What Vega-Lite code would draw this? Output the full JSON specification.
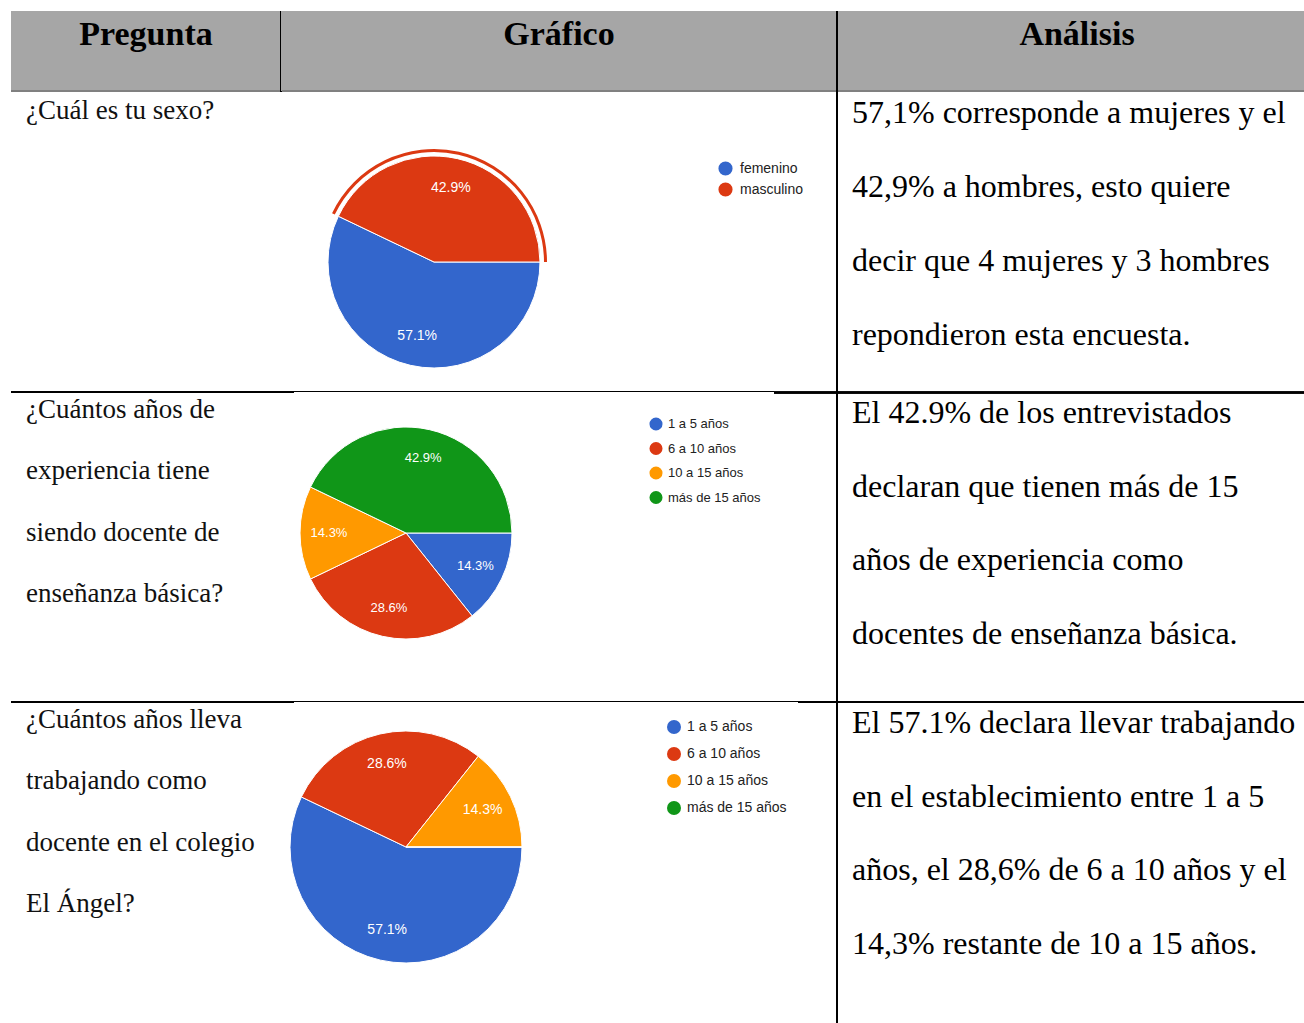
{
  "$schema": "https://vega.github.io/schema/vega-lite/v6.json",
  "padding": {"left": 10, "top": 10, "right": 0, "bottom": 0},
  "background": "white",
  "bounds": "flush",
  "spacing": 0,
  "columns": 3,
  "config": {"view": {"stroke": null}},
  "resolve": {"scale": {"color": "independent", "theta": "independent"}, "legend": {"color": "independent"}},
  "datasets": {
    "sexo": [
      {"cat": "femenino", "n": 1, "pct": 57.1, "lab": "57.1%"},
      {"cat": "masculino", "n": 2, "pct": 42.9, "lab": "42.9%"}
    ],
    "experiencia": [
      {"cat": "1 a 5 años", "n": 1, "pct": 14.3, "lab": "14.3%"},
      {"cat": "6 a 10 años", "n": 2, "pct": 28.6, "lab": "28.6%"},
      {"cat": "10 a 15 años", "n": 3, "pct": 14.3, "lab": "14.3%"},
      {"cat": "más de 15 años", "n": 4, "pct": 42.9, "lab": "42.9%"}
    ],
    "colegio": [
      {"cat": "1 a 5 años", "n": 1, "pct": 57.1, "lab": "57.1%"},
      {"cat": "6 a 10 años", "n": 2, "pct": 28.6, "lab": "28.6%"},
      {"cat": "10 a 15 años", "n": 3, "pct": 14.3, "lab": "14.3%"},
      {"cat": "más de 15 años", "n": 4, "pct": 0, "lab": ""}
    ],
    "preg1": [{"line": 1, "t": "¿Cuál es tu sexo?"}],
    "preg2": [
      {"line": 1, "t": "¿Cuántos años de"},
      {"line": 2, "t": "experiencia tiene"},
      {"line": 3, "t": "siendo docente de"},
      {"line": 4, "t": "enseñanza básica?"}
    ],
    "preg3": [
      {"line": 1, "t": "¿Cuántos años lleva"},
      {"line": 2, "t": "trabajando como"},
      {"line": 3, "t": "docente en el colegio"},
      {"line": 4, "t": "El Ángel?"}
    ],
    "anal1": [
      {"line": 1, "t": "57,1% corresponde a mujeres y el"},
      {"line": 2, "t": "42,9% a hombres, esto quiere"},
      {"line": 3, "t": "decir que 4 mujeres y 3 hombres"},
      {"line": 4, "t": "repondieron esta encuesta."}
    ],
    "anal2": [
      {"line": 1, "t": "El 42.9% de los entrevistados"},
      {"line": 2, "t": "declaran que tienen más de 15"},
      {"line": 3, "t": "años de experiencia como"},
      {"line": 4, "t": "docentes de enseñanza básica."}
    ],
    "anal3": [
      {"line": 1, "t": "El 57.1% declara llevar trabajando"},
      {"line": 2, "t": "en el establecimiento entre 1 a 5"},
      {"line": 3, "t": "años, el 28,6% de 6 a 10 años y el"},
      {"line": 4, "t": "14,3% restante de 10 a 15 años."}
    ],
    "cab": [{"c1": "Pregunta", "c2": "Gráfico", "c3": "Análisis"}]
  },
  "concat": [
    {
      "width": 270, "height": 80,
      "view": {"fill": "#a6a6a6", "stroke": null},
      "data": {"name": "cab"},
      "layer": [
        {"mark": {"type": "text", "x": 135, "y": 34, "baseline": "alphabetic", "align": "center", "font": "Liberation Serif", "fontWeight": "bold", "fontSize": 34, "color": "#000"}, "encoding": {"text": {"field": "c1"}}},
        {"mark": {"type": "rule", "color": "#808080", "strokeWidth": 2}, "encoding": {"x": {"value": 0}, "x2": {"value": 270}, "y": {"value": 80}, "y2": {"value": 80}}},
        {"mark": {"type": "rule", "color": "#000", "strokeWidth": 2}, "encoding": {"x": {"value": 270}, "x2": {"value": 270}, "y": {"value": 0}, "y2": {"value": 81}}}
      ]
    },
    {
      "width": 556, "height": 80,
      "view": {"fill": "#a6a6a6", "stroke": null},
      "data": {"name": "cab"},
      "layer": [
        {"mark": {"type": "text", "x": 278, "y": 34, "baseline": "alphabetic", "align": "center", "font": "Liberation Serif", "fontWeight": "bold", "fontSize": 34, "color": "#000"}, "encoding": {"text": {"field": "c2"}}},
        {"mark": {"type": "rule", "color": "#808080", "strokeWidth": 2}, "encoding": {"x": {"value": 1}, "x2": {"value": 556}, "y": {"value": 80}, "y2": {"value": 80}}}
      ]
    },
    {
      "width": 468, "height": 80,
      "view": {"fill": "#a6a6a6", "stroke": null},
      "data": {"name": "cab"},
      "layer": [
        {"mark": {"type": "text", "x": 240, "y": 34, "baseline": "alphabetic", "align": "center", "font": "Liberation Serif", "fontWeight": "bold", "fontSize": 34, "color": "#000"}, "encoding": {"text": {"field": "c3"}}},
        {"mark": {"type": "rule", "color": "#808080", "strokeWidth": 2}, "encoding": {"x": {"value": 0}, "x2": {"value": 468}, "y": {"value": 80}, "y2": {"value": 80}}},
        {"mark": {"type": "rule", "color": "#000", "strokeWidth": 2}, "encoding": {"x": {"value": 0}, "x2": {"value": 0}, "y": {"value": 0}, "y2": {"value": 81}}}
      ]
    },
    {
      "width": 270, "height": 300,
      "data": {"name": "preg1"},
      "mark": {"type": "text", "align": "left", "baseline": "middle", "x": 15, "font": "Liberation Serif", "fontSize": 27, "color": "#111"},
      "encoding": {
        "text": {"field": "t"},
        "y": {"field": "line", "type": "quantitative", "axis": null, "scale": {"domain": [1, 2], "range": [20, 81.3], "zero": false, "nice": false}}
      }
    },
    {
      "width": 556, "height": 300,
      "data": {"name": "sexo"},
      "layer": [
        {
          "mark": {"type": "arc", "x": 153, "y": 171, "outerRadius": 106, "stroke": "#ffffff", "strokeWidth": 1},
          "encoding": {
            "theta": {"field": "pct", "type": "quantitative", "stack": true, "scale": {"range": [1.5708, 7.854]}},
            "order": {"field": "n", "type": "quantitative"},
            "color": {
              "field": "cat", "type": "nominal",
              "scale": {"domain": ["femenino", "masculino"], "range": ["#3366cc", "#dc3912"]},
              "legend": {"title": null, "orient": "none", "legendX": 437, "legendY": 70, "symbolType": "circle", "symbolSize": 200, "symbolStrokeWidth": 0, "labelFont": "Liberation Sans", "labelFontSize": 14, "labelColor": "#222222", "rowPadding": 6, "labelOffset": 7}
            }
          }
        },
        {
          "mark": {"type": "arc", "x": 153, "y": 171, "innerRadius": 110, "outerRadius": 113, "color": "#dc3912"},
          "encoding": {
            "theta": {"field": "pct", "type": "quantitative", "stack": true},
            "order": {"field": "n", "type": "quantitative"},
            "detail": {"field": "cat"},
            "opacity": {"condition": {"test": "datum.cat === 'masculino'", "value": 1}, "value": 0}
          }
        },
        {
          "mark": {"type": "text", "x": 153, "y": 171, "radius": 76, "color": "#ffffff", "font": "Liberation Sans", "fontSize": 14},
          "encoding": {
            "theta": {"field": "pct", "type": "quantitative", "stack": true},
            "order": {"field": "n", "type": "quantitative"},
            "text": {"field": "lab"},
            "detail": {"field": "cat"}
          }
        }
      ]
    },
    {
      "width": 468, "height": 300,
      "data": {"name": "anal1"},
      "layer": [
        {
          "mark": {"type": "text", "align": "left", "baseline": "middle", "x": 15, "font": "Liberation Serif", "fontSize": 32, "color": "#000"},
          "encoding": {
            "text": {"field": "t"},
            "y": {"field": "line", "type": "quantitative", "axis": null, "scale": {"domain": [1, 2], "range": [22, 96], "zero": false, "nice": false}}
          }
        },
        {"mark": {"type": "rule", "color": "#000", "strokeWidth": 2}, "encoding": {"x": {"value": 0}, "x2": {"value": 0}, "y": {"value": 0}, "y2": {"value": 300}}}
      ]
    },
    {
      "width": 270, "height": 310,
      "data": {"name": "preg2"},
      "layer": [
        {
          "mark": {"type": "text", "align": "left", "baseline": "middle", "x": 15, "font": "Liberation Serif", "fontSize": 27, "color": "#111"},
          "encoding": {
            "text": {"field": "t"},
            "y": {"field": "line", "type": "quantitative", "axis": null, "scale": {"domain": [1, 2], "range": [19, 80.3], "zero": false, "nice": false}}
          }
        },
        {"mark": {"type": "rule", "color": "#000", "strokeWidth": 2}, "encoding": {"x": {"value": 0}, "x2": {"value": 270}, "y": {"value": 1}, "y2": {"value": 1}}}
      ]
    },
    {
      "width": 556, "height": 310,
      "data": {"name": "experiencia"},
      "layer": [
        {"mark": {"type": "rule", "color": "#000", "strokeWidth": 2}, "encoding": {"x": {"value": 0}, "x2": {"value": 13}, "y": {"value": 1}, "y2": {"value": 1}}},
        {"mark": {"type": "rule", "color": "#000", "strokeWidth": 1}, "encoding": {"x": {"value": 13}, "x2": {"value": 493}, "y": {"value": 0.5}, "y2": {"value": 0.5}}},
        {"mark": {"type": "rule", "color": "#000", "strokeWidth": 2}, "encoding": {"x": {"value": 493}, "x2": {"value": 556}, "y": {"value": 1.5}, "y2": {"value": 1.5}}},
        {
          "mark": {"type": "arc", "x": 125, "y": 142, "outerRadius": 106, "stroke": "#ffffff", "strokeWidth": 1},
          "encoding": {
            "theta": {"field": "pct", "type": "quantitative", "stack": true, "scale": {"range": [1.5708, 7.854]}},
            "order": {"field": "n", "type": "quantitative"},
            "color": {
              "field": "cat", "type": "nominal",
              "scale": {"domain": ["1 a 5 años", "6 a 10 años", "10 a 15 años", "más de 15 años"], "range": ["#3366cc", "#dc3912", "#ff9900", "#109618"]},
              "legend": {"title": null, "orient": "none", "legendX": 368, "legendY": 26, "symbolType": "circle", "symbolSize": 170, "symbolStrokeWidth": 0, "labelFont": "Liberation Sans", "labelFontSize": 13, "labelColor": "#222222", "rowPadding": 10.5, "labelOffset": 5}
            }
          }
        },
        {
          "mark": {"type": "text", "x": 125, "y": 142, "radius": 77, "color": "#ffffff", "font": "Liberation Sans", "fontSize": 13},
          "encoding": {
            "theta": {"field": "pct", "type": "quantitative", "stack": true},
            "order": {"field": "n", "type": "quantitative"},
            "text": {"field": "lab"},
            "detail": {"field": "cat"}
          }
        }
      ]
    },
    {
      "width": 468, "height": 310,
      "data": {"name": "anal2"},
      "layer": [
        {
          "mark": {"type": "text", "align": "left", "baseline": "middle", "x": 15, "font": "Liberation Serif", "fontSize": 32, "color": "#000"},
          "encoding": {
            "text": {"field": "t"},
            "y": {"field": "line", "type": "quantitative", "axis": null, "scale": {"domain": [1, 2], "range": [22, 95.7], "zero": false, "nice": false}}
          }
        },
        {"mark": {"type": "rule", "color": "#000", "strokeWidth": 2}, "encoding": {"x": {"value": 0}, "x2": {"value": 468}, "y": {"value": 1.5}, "y2": {"value": 1.5}}},
        {"mark": {"type": "rule", "color": "#000", "strokeWidth": 2}, "encoding": {"x": {"value": 0}, "x2": {"value": 0}, "y": {"value": 0}, "y2": {"value": 310}}}
      ]
    },
    {
      "width": 270, "height": 323,
      "data": {"name": "preg3"},
      "layer": [
        {
          "mark": {"type": "text", "align": "left", "baseline": "middle", "x": 15, "font": "Liberation Serif", "fontSize": 27, "color": "#111"},
          "encoding": {
            "text": {"field": "t"},
            "y": {"field": "line", "type": "quantitative", "axis": null, "scale": {"domain": [1, 2], "range": [19, 80.3], "zero": false, "nice": false}}
          }
        },
        {"mark": {"type": "rule", "color": "#000", "strokeWidth": 2}, "encoding": {"x": {"value": 0}, "x2": {"value": 270}, "y": {"value": 1}, "y2": {"value": 1}}}
      ]
    },
    {
      "width": 556, "height": 323,
      "data": {"name": "colegio"},
      "layer": [
        {"mark": {"type": "rule", "color": "#000", "strokeWidth": 2}, "encoding": {"x": {"value": 0}, "x2": {"value": 13}, "y": {"value": 1}, "y2": {"value": 1}}},
        {"mark": {"type": "rule", "color": "#000", "strokeWidth": 1}, "encoding": {"x": {"value": 13}, "x2": {"value": 517}, "y": {"value": 0.5}, "y2": {"value": 0.5}}},
        {"mark": {"type": "rule", "color": "#000", "strokeWidth": 2}, "encoding": {"x": {"value": 517}, "x2": {"value": 556}, "y": {"value": 1}, "y2": {"value": 1}}},
        {
          "mark": {"type": "arc", "x": 125, "y": 146, "outerRadius": 116, "stroke": "#ffffff", "strokeWidth": 1},
          "encoding": {
            "theta": {"field": "pct", "type": "quantitative", "stack": true, "scale": {"range": [1.5708, 7.854]}},
            "order": {"field": "n", "type": "quantitative"},
            "color": {
              "field": "cat", "type": "nominal",
              "scale": {"domain": ["1 a 5 años", "6 a 10 años", "10 a 15 años", "más de 15 años"], "range": ["#3366cc", "#dc3912", "#ff9900", "#109618"]},
              "legend": {"title": null, "orient": "none", "legendX": 386, "legendY": 19, "symbolType": "circle", "symbolSize": 196, "symbolStrokeWidth": 0, "labelFont": "Liberation Sans", "labelFontSize": 14, "labelColor": "#222222", "rowPadding": 13, "labelOffset": 6}
            }
          }
        },
        {
          "transform": [{"filter": "datum.pct > 0"}],
          "mark": {"type": "text", "x": 125, "y": 146, "radius": 85, "color": "#ffffff", "font": "Liberation Sans", "fontSize": 14},
          "encoding": {
            "theta": {"field": "pct", "type": "quantitative", "stack": true},
            "order": {"field": "n", "type": "quantitative"},
            "text": {"field": "lab"},
            "detail": {"field": "cat"}
          }
        }
      ]
    },
    {
      "width": 468, "height": 323,
      "data": {"name": "anal3"},
      "layer": [
        {
          "mark": {"type": "text", "align": "left", "baseline": "middle", "x": 15, "font": "Liberation Serif", "fontSize": 32, "color": "#000"},
          "encoding": {
            "text": {"field": "t"},
            "y": {"field": "line", "type": "quantitative", "axis": null, "scale": {"domain": [1, 2], "range": [22, 95.7], "zero": false, "nice": false}}
          }
        },
        {"mark": {"type": "rule", "color": "#000", "strokeWidth": 2}, "encoding": {"x": {"value": 0}, "x2": {"value": 468}, "y": {"value": 1}, "y2": {"value": 1}}},
        {"mark": {"type": "rule", "color": "#000", "strokeWidth": 2}, "encoding": {"x": {"value": 0}, "x2": {"value": 0}, "y": {"value": 0}, "y2": {"value": 323}}}
      ]
    }
  ]
}
